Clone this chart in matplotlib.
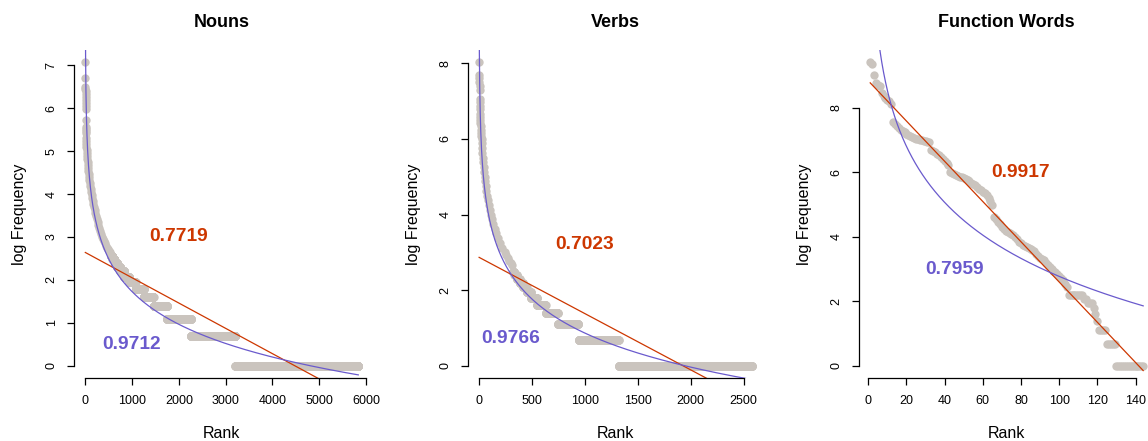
import numpy as np
import matplotlib
matplotlib.use("Agg")
import matplotlib.pyplot as plt

plt.rcParams['font.family'] = ['Liberation Sans', 'DejaVu Sans']

# ---------------- data ----------------
titles = ["Nouns", "Verbs", "Function Words"]

# Nouns: top words (rank, log frequency) + frequency classes of the tail
nouns_top_rank = [1, 2, 3, 4, 5, 6, 7, 8, 9, 10, 11, 12, 13, 14, 15, 16, 18, 20, 23, 26,
                  30, 34, 38, 43, 48, 54, 60, 66, 73, 80, 88, 96, 105, 115, 126, 137, 148,
                  160, 172, 186, 200, 215, 230, 246, 263, 280, 298, 317, 337, 357, 378,
                  400, 422, 445, 468, 490, 512, 530]
nouns_top_logfreq = [7.07, 6.69, 6.50, 6.45, 6.40, 6.33, 6.27, 6.20, 6.12, 6.05, 5.97, 5.72,
                     5.57, 5.52, 5.46, 5.41, 5.30, 5.24, 5.17, 5.10, 5.03, 4.96, 4.89, 4.82,
                     4.75, 4.68, 4.61, 4.54, 4.47, 4.40, 4.33, 4.26, 4.19, 4.12, 4.05, 3.98,
                     3.91, 3.84, 3.77, 3.70, 3.63, 3.56, 3.49, 3.42, 3.35, 3.28, 3.21, 3.14,
                     3.07, 3.01, 2.95, 2.90, 2.85, 2.80, 2.75, 2.71, 2.68, 2.65]
nouns_types = 5835
nouns_tail_freq = [13, 12, 11, 10, 9, 8, 7, 6, 5, 4, 3, 2, 1]
nouns_tail_words = [35, 45, 55, 65, 85, 105, 140, 175, 210, 288, 512, 948, 2628]

# Verbs
verbs_top_rank = [1, 2, 3, 4, 5, 6, 7, 8, 9, 10, 11, 12, 13, 14, 16, 18, 20, 22, 24, 26,
                  29, 32, 35, 39, 43, 47, 52, 57, 63, 69, 76, 84, 92, 101, 112, 123, 136,
                  150, 165, 182, 200, 220, 242, 256, 270, 285, 300, 315]
verbs_top_logfreq = [8.03, 7.68, 7.60, 7.50, 7.40, 7.30, 7.06, 6.98, 6.88, 6.78, 6.67, 6.58,
                     6.50, 6.42, 6.33, 6.24, 6.16, 6.08, 6.00, 5.88, 5.75, 5.62, 5.50, 5.38,
                     5.25, 5.12, 5.00, 4.88, 4.75, 4.62, 4.50, 4.38, 4.25, 4.12, 4.00, 3.88,
                     3.75, 3.62, 3.50, 3.38, 3.25, 3.12, 3.00, 2.92, 2.85, 2.78, 2.72, 2.66]
verbs_types = 2580
verbs_tail_freq = [12, 11, 10, 9, 8, 7, 6, 5, 4, 3, 2, 1]
verbs_tail_words = [14, 23, 27, 30, 35, 40, 58, 82, 115, 195, 380, 1261]

# Function words: every word, in rank order
func_logfreq = [9.42, 9.35, 9.03, 8.76, 8.72, 8.67, 8.45, 8.38, 8.32, 8.26, 8.20, 8.13,
                7.55, 7.50, 7.45, 7.38, 7.33, 7.28, 7.24, 7.20, 7.17, 7.14, 7.11, 7.08,
                7.05, 7.03, 7.01, 6.99, 6.98, 6.96, 6.95, 6.93,
                6.70, 6.66, 6.62, 6.58, 6.54, 6.48, 6.42, 6.36, 6.30, 6.24,
                6.00, 5.97, 5.94, 5.91, 5.89, 5.87, 5.85, 5.83, 5.81, 5.78,
                5.72, 5.68, 5.65, 5.60, 5.55, 5.50, 5.45, 5.40, 5.35, 5.29, 5.22, 5.10, 4.98,
                4.62, 4.55, 4.47, 4.40, 4.32, 4.25, 4.19, 4.15, 4.12, 4.09, 4.06, 4.00,
                3.92, 3.85, 3.80, 3.76, 3.72, 3.68, 3.65, 3.62, 3.59, 3.55, 3.48, 3.42,
                3.36, 3.31, 3.27, 3.20, 3.13, 3.07, 3.00, 2.95, 2.90, 2.86, 2.80, 2.72,
                2.65, 2.55, 2.46,
                2.20, 2.20, 2.20, 2.20, 2.20, 2.20, 2.20, 2.20,
                2.08, 2.08, 1.95, 1.95, 1.95, 1.79, 1.61, 1.39,
                1.10, 1.10, 1.10, 1.10, 0.69, 0.69, 0.69, 0.69, 0.69,
                0, 0, 0, 0, 0, 0, 0, 0, 0, 0, 0, 0, 0, 0, 0]

# fitted models: linear (red) and log-rank (blue)
lin_intercept = [2.64, 2.87, 8.84]
lin_slope = [-5.89e-4, -1.488e-3, -0.0624]
log_intercept = [9.32, 9.84, 14.31]
log_slope = [-1.099, -1.299, -2.505]
r2_linear = ["0.7719", "0.7023", "0.9917"]
r2_log = ["0.9712", "0.9766", "0.7959"]
r2_linear_pos = [(2000, 3.0), (1000, 3.2), (80, 6.0)]
r2_log_pos = [(1000, 0.5), (300, 0.72), (45, 3.0)]

x_ticks = [[0, 1000, 2000, 3000, 4000, 5000, 6000],
           [0, 500, 1000, 1500, 2000, 2500],
           [0, 20, 40, 60, 80, 100, 120, 140]]
y_ticks = [[0, 1, 2, 3, 4, 5, 6, 7],
           [0, 2, 4, 6, 8],
           [0, 2, 4, 6, 8]]


def build(top_rank, top_logfreq, n_types, tail_freq, tail_words):
    start = n_types - sum(tail_words) + 1
    ranks = list(top_rank)
    vals = list(top_logfreq)
    r = start
    for f, k in zip(tail_freq, tail_words):
        ranks.extend(range(r, r + k))
        vals.extend([np.log(f)] * k)
        r += k
    return np.array(ranks, float), np.array(vals, float)


data = [build(nouns_top_rank, nouns_top_logfreq, nouns_types, nouns_tail_freq, nouns_tail_words),
        build(verbs_top_rank, verbs_top_logfreq, verbs_types, verbs_tail_freq, verbs_tail_words),
        (np.arange(1, len(func_logfreq) + 1, dtype=float), np.array(func_logfreq))]

# ---------------- figure ----------------
W, H = 1148, 441
fig = plt.figure(figsize=(W / 100, H / 100), dpi=100)

point_col = "#CAC4BE"
red = "#CD3700"
blue = "#6A5ACD"

lefts = [74.4, 468.2, 859.3]
width_px = 294.8
top_px, bot_px = 50, 378

for i in range(3):
    x, y = data[i]
    ax = fig.add_axes([lefts[i] / W, (H - bot_px) / H, width_px / W, (bot_px - top_px) / H])
    xr = x.max() - x.min()
    yr = y.max() - y.min()
    ax.set_xlim(x.min() - 0.04 * xr, x.max() + 0.04 * xr)
    ax.set_ylim(y.min() - 0.04 * yr, y.max() + 0.04 * yr)

    ax.scatter(x, y, s=36, c=point_col, linewidths=0, zorder=1)

    rr = np.linspace(1, x.max(), 4000)
    ax.plot(rr, lin_intercept[i] + lin_slope[i] * rr, color=red, lw=0.9, zorder=2)
    rr2 = np.exp(np.linspace(0, np.log(x.max()), 4000))
    ax.plot(rr2, log_intercept[i] + log_slope[i] * np.log(rr2), color=blue, lw=0.9, zorder=3)

    ax.text(*r2_linear_pos[i], r2_linear[i], color=red, fontsize=13.8, fontweight='bold',
            ha='center', va='center', zorder=4)
    ax.text(*r2_log_pos[i], r2_log[i], color=blue, fontsize=13.8, fontweight='bold',
            ha='center', va='center', zorder=4)

    for s in ['top', 'right']:
        ax.spines[s].set_visible(False)
    ax.spines['left'].set_bounds(y_ticks[i][0], y_ticks[i][-1])
    ax.spines['bottom'].set_bounds(x_ticks[i][0], x_ticks[i][-1])
    for s in ['left', 'bottom']:
        ax.spines[s].set_linewidth(0.9)
        ax.spines[s].set_color('black')
    ax.set_xticks(x_ticks[i])
    ax.set_yticks(y_ticks[i])
    ax.set_xticklabels([str(t) for t in x_ticks[i]])
    ax.set_yticklabels([str(t) for t in y_ticks[i]], rotation=90, va='center')
    ax.tick_params(direction='out', length=5, width=0.9, pad=7, labelsize=9)

    ax.set_title(titles[i], fontsize=13, fontweight='bold', pad=16.5)
    cx = (lefts[i] + width_px / 2) / W
    fig.text(cx, 3 / H, "Rank", ha='center', va='baseline', fontsize=11.5)
    fig.text((lefts[i] - 55) / W, (H - (top_px + bot_px) / 2) / H, "log Frequency",
             rotation=90, ha='center', va='center', fontsize=11.5)

fig.savefig("out.png", dpi=100)
